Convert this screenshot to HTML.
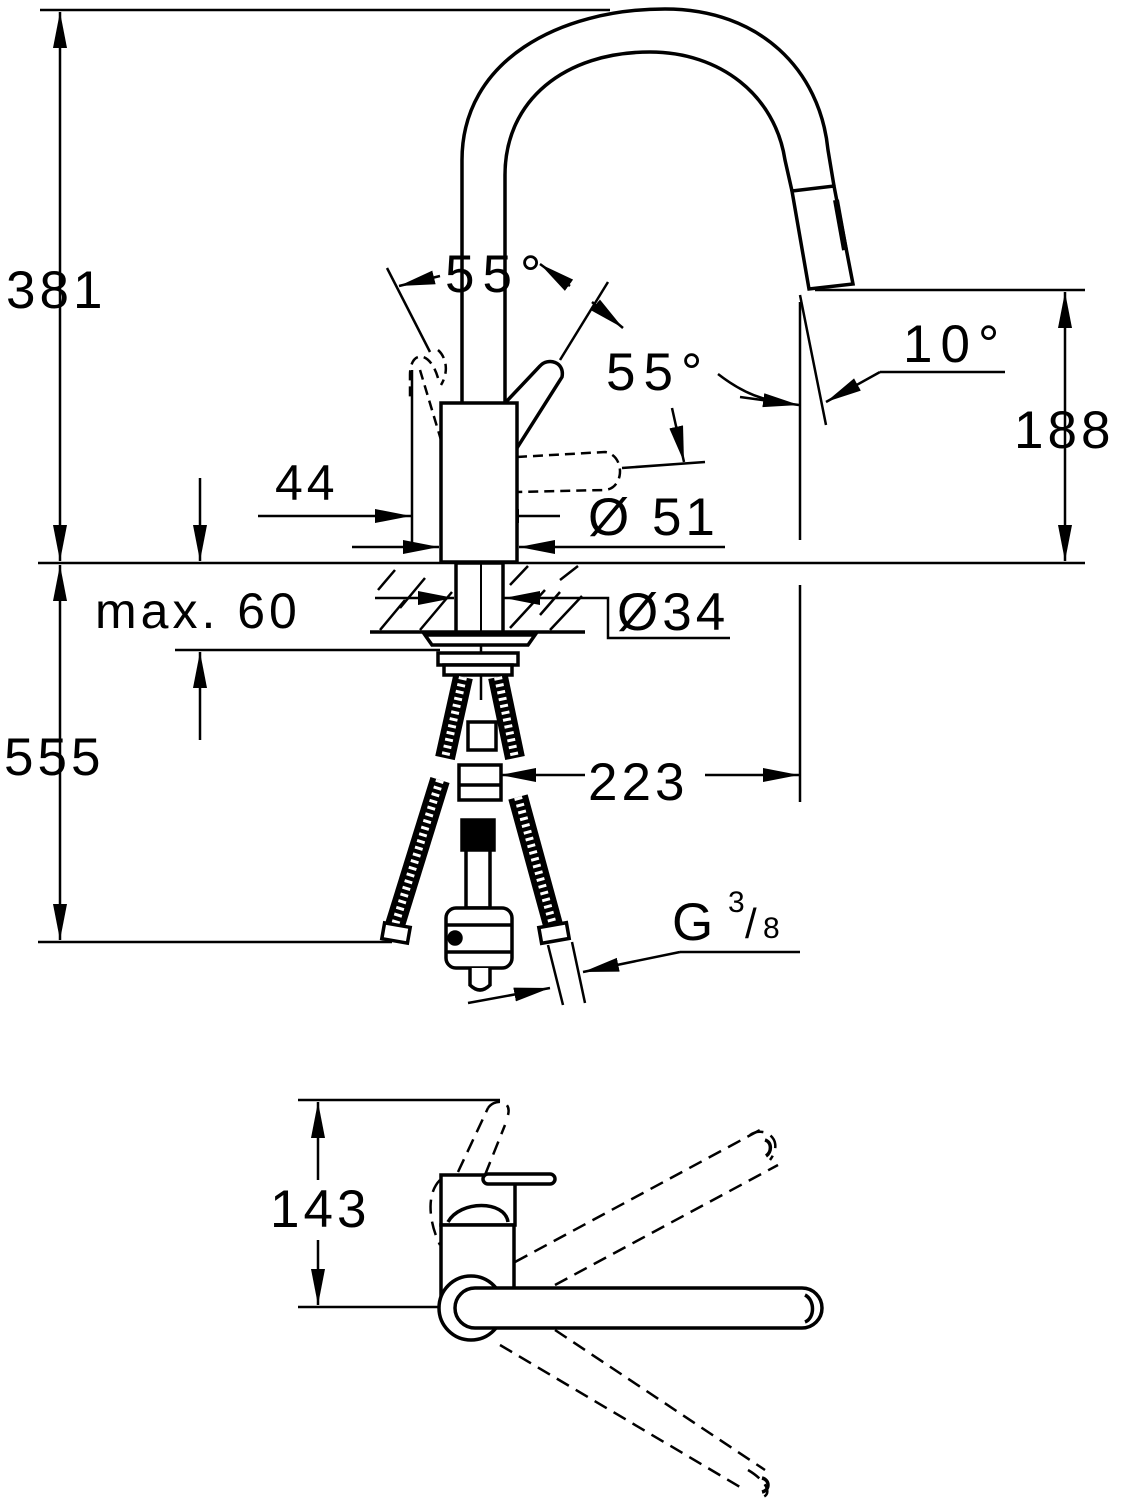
<!DOCTYPE html>
<html><head><meta charset="utf-8"><style>
html,body{margin:0;padding:0;background:#fff;}
svg{display:block;}
text{font-family:"Liberation Sans",Arial,sans-serif;fill:#000;letter-spacing:4px;}
</style></head><body>
<svg width="1121" height="1500" viewBox="0 0 1121 1500" xmlns="http://www.w3.org/2000/svg">
<defs>
<marker id="a" markerUnits="userSpaceOnUse" markerWidth="38" markerHeight="16" refX="36" refY="8" orient="auto-start-reverse"><path d="M0,1 L36,8 L0,15 z" fill="#000"/></marker>
</defs>
<g stroke="#000" fill="none" stroke-width="2.5">
<line x1="40" y1="10" x2="610" y2="10"/>
<line x1="38" y1="563" x2="1085" y2="563"/>
<line x1="38" y1="942" x2="392" y2="942"/>
<line x1="815" y1="290" x2="1085" y2="290"/>
<line x1="60" y1="12" x2="60" y2="561" marker-start="url(#a)" marker-end="url(#a)"/>
<line x1="60" y1="565" x2="60" y2="940" marker-start="url(#a)" marker-end="url(#a)"/>
<line x1="1065" y1="292" x2="1065" y2="561" marker-start="url(#a)" marker-end="url(#a)"/>
<line x1="200" y1="478" x2="200" y2="561" marker-end="url(#a)"/>
<line x1="200" y1="740" x2="200" y2="652" marker-end="url(#a)"/>
<line x1="175" y1="650" x2="440" y2="650"/>
<line x1="258" y1="516" x2="411" y2="516" marker-end="url(#a)"/>
<line x1="412" y1="370" x2="412" y2="548"/>
<line x1="352" y1="547" x2="439" y2="547" marker-end="url(#a)"/>
<line x1="725" y1="547" x2="519" y2="547" marker-end="url(#a)"/>
<line x1="560" y1="516" x2="483" y2="516" marker-end="url(#a)"/>
<line x1="481" y1="492" x2="481" y2="700"/>
<line x1="375" y1="598" x2="454" y2="598" marker-end="url(#a)"/>
<line x1="600" y1="598" x2="504" y2="598" marker-end="url(#a)"/>
<polyline points="600,598 608,598 608,638 730,638"/>
<line x1="585" y1="775" x2="500" y2="775" marker-end="url(#a)"/>
<line x1="705" y1="775" x2="799" y2="775" marker-end="url(#a)"/>
<line x1="800" y1="302" x2="800" y2="540"/>
<line x1="800" y1="585" x2="800" y2="802"/>
<line x1="800" y1="295" x2="826" y2="425"/>
<polyline points="1005,372 880,372"/>
<line x1="880" y1="372" x2="826" y2="402" marker-end="url(#a)"/>
<path d="M718,374 Q745,395 770,400" />
<line x1="740" y1="397" x2="799" y2="405" marker-end="url(#a)"/>
<line x1="672" y1="408" x2="684" y2="462" marker-end="url(#a)"/>
<line x1="622" y1="468" x2="705" y2="462"/>
<line x1="440" y1="276" x2="399" y2="286" marker-end="url(#a)"/>
<line x1="387" y1="268" x2="430" y2="352"/>
<line x1="570" y1="286" x2="540" y2="264" marker-end="url(#a)"/>
<line x1="592" y1="302" x2="623" y2="328" marker-end="url(#a)"/>
<line x1="608" y1="282" x2="560" y2="360"/>
<line x1="800" y1="952" x2="680" y2="952"/>
<line x1="680" y1="952" x2="583" y2="972" marker-end="url(#a)"/>
<line x1="468" y1="1003" x2="550" y2="988" marker-end="url(#a)"/>
<line x1="548" y1="945" x2="563" y2="1005"/>
<line x1="572" y1="942" x2="585" y2="1003"/>
</g>
<g stroke="#000" fill="none" stroke-width="3.5">
<path d="M462,403 L462,160 C462,60 560,9 665,9 C760,9 820,70 828,150 L834,186"/>
<path d="M505,403 L505,175 C505,100 565,52 650,52 C720,52 775,95 785,160 L792,191"/>
<path d="M792,191 L834,186 L853,284 L809,289 Z"/>
<line x1="836" y1="200" x2="845" y2="250" stroke-width="6"/>
<rect x="441" y="403" width="76" height="159" fill="#fff"/>
<path d="M505,403 L540,366 C548,357 565,362 562,377 L517,448"/>
<line x1="370" y1="632" x2="585" y2="632"/>
<rect x="456" y="563" width="47" height="69" fill="#fff"/>
<line x1="481" y1="563" x2="481" y2="632" stroke-width="2"/>
</g>
<g stroke="#000" stroke-width="2.5" fill="none">
<path d="M378,590 L395,570 M400,608 L425,578 M380,630 L405,600 M420,630 L452,592 M510,585 L528,566 M510,628 L545,590 M540,615 L560,592 M550,630 L582,596 M560,580 L578,566"/>
</g>
<g stroke="#000" stroke-width="2.5" fill="none" stroke-dasharray="10,6">
<path d="M438,378 C430,350 410,350 410,375 L410,400"/>
<path d="M420,370 L441,440"/>
<path d="M438,350 C445,356 450,370 441,385"/>
<path d="M517,457 L605,452 C625,455 625,488 605,490 L517,492"/>
</g>
<g stroke="#000" stroke-width="3.5" fill="#fff">
<path d="M425,635 L535,635 L528,645 L432,645 Z"/>
<rect x="438" y="653" width="80" height="12"/>
<rect x="444" y="665" width="68" height="10"/>
</g>
<g stroke="#000" stroke-width="20" stroke-linecap="butt">
<line x1="463" y1="677" x2="445" y2="758"/>
<line x1="498" y1="677" x2="515" y2="758"/>
<line x1="440" y1="780" x2="395" y2="925"/>
<line x1="518" y1="797" x2="553" y2="925"/>
</g>
<g stroke="#fff" stroke-width="8" stroke-dasharray="3,4">
<line x1="463" y1="677" x2="445" y2="758"/>
<line x1="498" y1="677" x2="515" y2="758"/>
<line x1="440" y1="780" x2="395" y2="925"/>
<line x1="518" y1="797" x2="553" y2="925"/>
</g>
<g stroke="#000" stroke-width="3.5" fill="#fff">
<rect x="468" y="722" width="28" height="28"/>
<rect x="459" y="765" width="42" height="35"/>
<line x1="459" y1="785" x2="501" y2="785"/>
<rect x="462" y="820" width="32" height="30" fill="#000"/>
<rect x="466" y="850" width="24" height="58"/>
<rect x="446" y="908" width="66" height="60" rx="10"/>
<line x1="446" y1="925" x2="512" y2="925"/>
<line x1="446" y1="952" x2="512" y2="952"/>
<path d="M470,968 L470,985 Q480,995 490,985 L490,968"/>
<circle cx="455" cy="938" r="6" fill="#000"/>
<rect x="383" y="925" width="26" height="16" transform="rotate(10 396 933)"/>
<rect x="540" y="925" width="28" height="16" transform="rotate(-10 554 933)"/>
</g>
<g stroke="#000" stroke-width="2.5" fill="none">
<line x1="298" y1="1100" x2="500" y2="1100"/>
<line x1="298" y1="1307" x2="440" y2="1307"/>
<line x1="318" y1="1102" x2="318" y2="1180" marker-start="url(#a)"/>
<line x1="318" y1="1240" x2="318" y2="1305" marker-end="url(#a)"/>
</g>
<g stroke="#000" stroke-width="2.5" fill="none" stroke-dasharray="14,8">
<line x1="515" y1="1262" x2="760" y2="1130"/>
<line x1="555" y1="1285" x2="778" y2="1165"/>
<line x1="555" y1="1330" x2="765" y2="1470"/>
<line x1="500" y1="1345" x2="745" y2="1490"/>
<line x1="458" y1="1172" x2="488" y2="1108"/>
<line x1="485" y1="1175" x2="505" y2="1125"/>
<path d="M488,1108 C495,1098 512,1100 508,1115"/>
<path d="M440,1180 C425,1195 430,1225 440,1245"/>
<path d="M750,1135 C765,1125 785,1140 770,1160"/>
<path d="M748,1470 C765,1480 775,1495 760,1498"/>
</g>
<g stroke="#000" stroke-width="3.5" fill="#fff">
<rect x="441" y="1175" width="74" height="50"/>
<rect x="441" y="1225" width="73" height="70"/>
<path d="M448,1222 C460,1200 505,1200 508,1222"/>
<rect x="483" y="1174" width="72" height="10" rx="5"/>
<circle cx="471" cy="1308" r="32"/>
<rect x="455" y="1288" width="367" height="40" rx="20"/>
</g>
<g stroke="#000" stroke-width="3.5" fill="none">
<path d="M805,1295 C815,1300 815,1318 805,1322"/>
<path d="M765,1140 C772,1142 772,1152 766,1156"/>
<path d="M762,1478 C770,1480 770,1490 762,1492"/>
</g>
<text x="6" y="308" font-size="53">381</text>
<text x="4" y="775" font-size="53">555</text>
<text x="1014" y="448" font-size="53">188</text>
<text x="95" y="628" font-size="50">max. 60</text>
<text x="275" y="500" font-size="50">44</text>
<text x="588" y="535" font-size="53">Ø 51</text>
<text x="617" y="630" font-size="53">Ø34</text>
<text x="588" y="800" font-size="53">223</text>
<text x="445" y="292" font-size="53" style="letter-spacing:8px">55°</text>
<text x="606" y="390" font-size="53" style="letter-spacing:8px">55°</text>
<text x="903" y="362" font-size="53" style="letter-spacing:8px">10°</text>
<text x="672" y="940" font-size="53">G</text>
<text x="728" y="912" font-size="30">3</text>
<text x="745" y="938" font-size="42">/</text>
<text x="763" y="938" font-size="30">8</text>
<text x="270" y="1227" font-size="53">143</text>
</svg>
</body></html>
